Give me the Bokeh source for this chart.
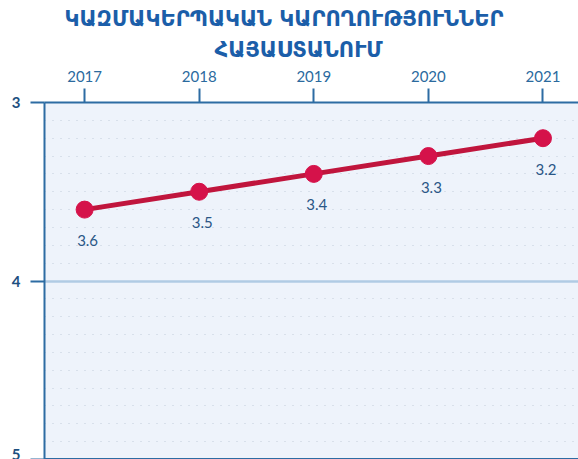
from bokeh.plotting import figure
from bokeh.models import ColumnDataSource, Range1d, FixedTicker, Title, LabelSet, Span
from bokeh.core.properties import value
from bokeh.embed import file_html
from bokeh.resources import INLINE

years = [2017, 2018, 2019, 2020, 2021]
values = [3.6, 3.5, 3.4, 3.3, 3.2]
labels = ["3.6", "3.5", "3.4", "3.3", "3.2"]
y_ticks = [3, 4, 5]
y_minor = [3.1, 3.2, 3.3, 3.4, 3.5, 3.6, 3.7, 3.8, 3.9, 4.1, 4.2, 4.3, 4.4, 4.5, 4.6, 4.7, 4.8, 4.9]
title1 = "ԿԱԶՄԱԿԵՐՊԱԿԱՆ ԿԱՐՈՂՈՒԹՅՈՒՆՆԵՐ"
title2 = "ՀԱՅԱՍՏԱՆՈՒՄ"

src = ColumnDataSource(dict(x=years, y=values, t=labels))

p = figure(width=578, height=459, output_backend="svg", toolbar_location=None,
           x_range=Range1d(2016.65, 2021.31), y_range=Range1d(5.0, 3),
           x_axis_location="above", min_border_left=44, min_border_right=0,
           min_border_bottom=0, min_border_top=102,
           border_fill_color="white")
p.title = None
p.background_fill_color = "#eef3fb"
p.outline_line_color = None

t2 = Title(text=title2, align="left", text_font="DejaVu Sans", text_font_size="21px",
           text_font_style="bold", text_color="#1b5ea9", offset=170, standoff=11)
t1 = Title(text=title1, align="left", text_font="DejaVu Sans", text_font_size="21px",
           text_font_style="bold", text_color="#1b5ea9", offset=20, standoff=0)
p.add_layout(t2, "above")
p.add_layout(t1, "above")

ax = p.xaxis[0]
ax.ticker = FixedTicker(ticks=years)
ax.axis_line_color = "#2d6ca3"
ax.axis_line_width = 2
ax.major_tick_line_color = "#2d6ca3"
ax.major_tick_line_width = 2
ax.major_tick_out = 14
ax.major_tick_in = 0
ax.minor_tick_line_color = None
ax.major_label_standoff = 7
ax.major_label_text_font = "Lato"
ax.major_label_text_font_size = "15px"
ax.major_label_text_color = "#2b6a9e"

ay = p.yaxis[0]
ay.ticker = FixedTicker(ticks=y_ticks, minor_ticks=y_minor)
ay.axis_line_color = "#2d6ca3"
ay.axis_line_width = 2
ay.major_tick_line_color = "#2d6ca3"
ay.major_tick_line_width = 2
ay.major_tick_out = 14
ay.major_tick_in = 0
ay.minor_tick_line_color = None
ay.major_label_standoff = 10
ay.major_label_text_font = "Lato"
ay.major_label_text_font_style = "bold"
ay.major_label_text_font_size = "15px"
ay.major_label_text_color = "#1d4f80"

p.xgrid.grid_line_color = None
p.ygrid.grid_line_color = "#b0cbe4"
p.ygrid.grid_line_width = 2.5
p.ygrid.minor_grid_line_color = "#c3cdda"
p.ygrid.minor_grid_line_width = 1.2
p.ygrid.minor_grid_line_dash = "1 7"

p.add_layout(Span(location=5, dimension="width", line_color="#2d6ca3", line_width=3))

p.line("x", "y", source=src, line_color="#c0153d", line_width=5)
p.scatter("x", "y", source=src, size=17, fill_color="#d5124a", line_color="#d5124a")

ls = LabelSet(x="x", y="y", text="t", source=src, y_offset=-31, x_offset=3,
              text_align="center", text_baseline="middle", text_font=value("Lato"),
              text_font_size="15px", text_color="#2a5686")
p.add_layout(ls)

open("out.html", "w").write(file_html(p, INLINE))
